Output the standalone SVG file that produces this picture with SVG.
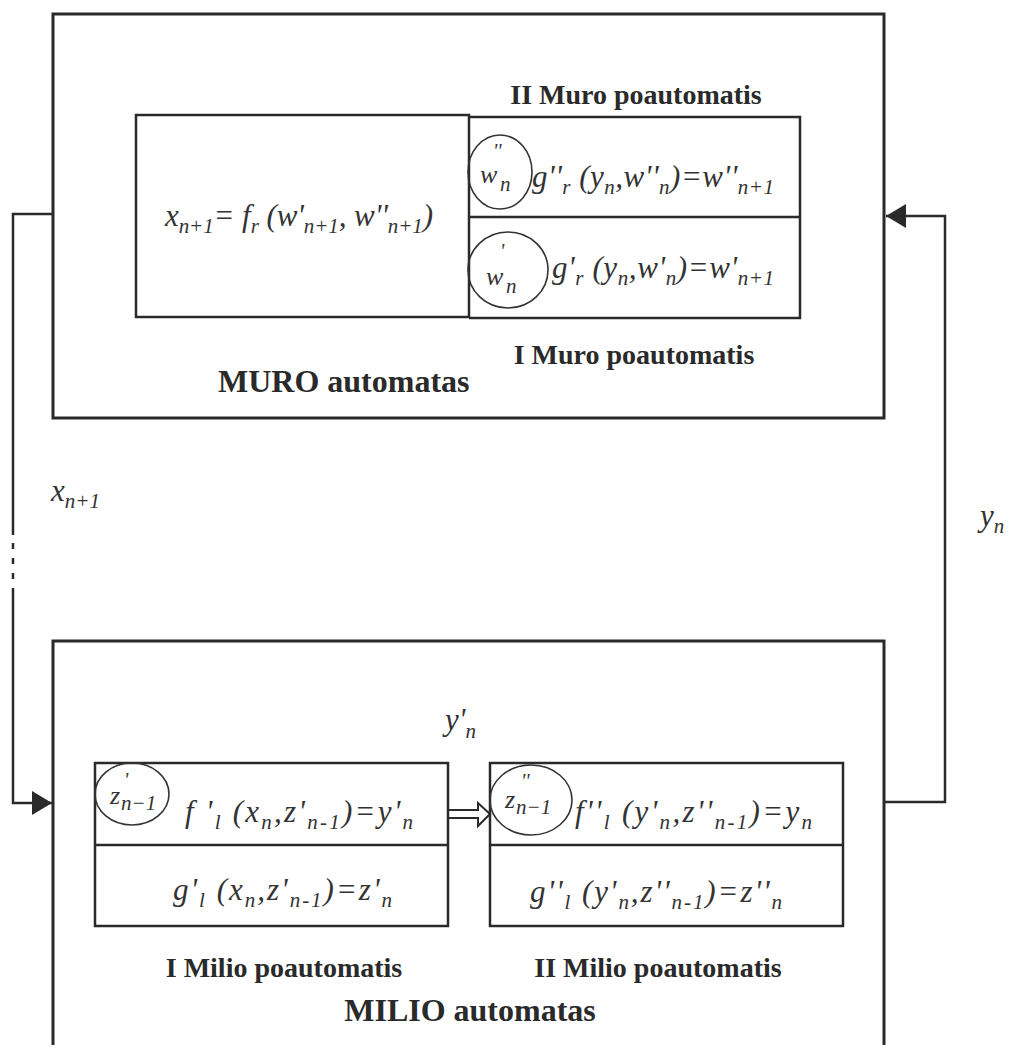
<svg xmlns="http://www.w3.org/2000/svg" width="1015" height="1045" viewBox="0 0 1015 1045">
<style>
.box{fill:none;stroke:#2a2a2a;stroke-width:3}
.ibox{fill:none;stroke:#2a2a2a;stroke-width:2.5}
.ell{fill:none;stroke:#333;stroke-width:1.6}
.con{fill:none;stroke:#2a2a2a;stroke-width:2.5}
.f{font-family:"Liberation Serif",serif;font-style:italic;font-size:31px;fill:#333}
.s{font-size:21px}
.p{font-size:20px}
.cs{font-family:"Liberation Serif",serif;font-style:italic;font-size:26px;fill:#333}
.lb{font-family:"Liberation Serif",serif;font-weight:bold;font-size:28px;fill:#2a2a2a}
.tl{font-family:"Liberation Serif",serif;font-weight:bold;font-size:32px;fill:#2a2a2a}
</style>
<defs>
<marker id="ah" markerWidth="20" markerHeight="24" refX="20" refY="12" orient="auto" markerUnits="userSpaceOnUse">
<path d="M0,0 L20,12 L0,24 Z" fill="#2a2a2a"/>
</marker>
</defs>
<rect width="1015" height="1045" fill="#fff"/>

<g id="muro">
<rect class="box" x="53" y="14" width="831" height="404"/>
<rect class="ibox" x="136" y="115" width="333" height="202"/>
<polyline class="ibox" points="469,117 800,117 800,318 469,318"/>
<line class="ibox" x1="469" y1="217" x2="800" y2="217"/>
<text class="lb" x="636" y="104" text-anchor="middle">II Muro poautomatis</text>
<text class="lb" x="634" y="364" text-anchor="middle">I  Muro poautomatis</text>
<text class="tl" x="218" y="392">MURO automatas</text>
<text class="f" x="165" y="226" textLength="268">x<tspan class="s" dy="7">n+1</tspan><tspan dy="-7">= f</tspan><tspan class="s" dy="7">r</tspan><tspan dy="-7"> (w'</tspan><tspan class="s" dy="7">n+1</tspan><tspan dy="-7">, w''</tspan><tspan class="s" dy="7">n+1</tspan><tspan dy="-7">)</tspan></text>
<ellipse class="ell" cx="500" cy="172" rx="32" ry="37"/>
<text class="cs" x="480" y="183">w<tspan class="p" x="493" y="158">''</tspan><tspan class="s" x="500" y="191">n</tspan></text>
<text class="f" x="532" y="187" textLength="242">g''<tspan class="s" dy="7">r</tspan><tspan dy="-7"> (y</tspan><tspan class="s" dy="7">n</tspan><tspan dy="-7">,w''</tspan><tspan class="s" dy="7">n</tspan><tspan dy="-7">)=w''</tspan><tspan class="s" dy="7">n+1</tspan></text>
<ellipse class="ell" cx="508" cy="270" rx="40" ry="38"/>
<text class="cs" x="486" y="285">w<tspan class="p" x="500" y="258">'</tspan><tspan class="s" x="506" y="293">n</tspan></text>
<text class="f" x="552" y="278" textLength="222">g'<tspan class="s" dy="7">r</tspan><tspan dy="-7"> (y</tspan><tspan class="s" dy="7">n</tspan><tspan dy="-7">,w'</tspan><tspan class="s" dy="7">n</tspan><tspan dy="-7">)=w'</tspan><tspan class="s" dy="7">n+1</tspan></text>
</g>

<g id="milio">
<rect class="box" x="53" y="641" width="831" height="420"/>
<rect class="ibox" x="95" y="763" width="353" height="163"/>
<line class="ibox" x1="95" y1="845" x2="448" y2="845"/>
<rect class="ibox" x="490" y="763" width="353" height="163"/>
<line class="ibox" x1="490" y1="845" x2="843" y2="845"/>
<text class="f" x="445" y="730">y'<tspan class="s" dy="8">n</tspan></text>
<ellipse class="ell" cx="132" cy="794" rx="37" ry="31"/>
<text class="cs" x="110" y="804">z<tspan class="p" x="124" y="787">'</tspan><tspan class="s" x="121" y="810">n−1</tspan></text>
<text class="f" x="185" y="822" textLength="228">f '<tspan class="s" dy="7">l</tspan><tspan dy="-7"> (x</tspan><tspan class="s" dy="7">n</tspan><tspan dy="-7">,z'</tspan><tspan class="s" dy="7">n-1</tspan><tspan dy="-7">)=y'</tspan><tspan class="s" dy="7">n</tspan></text>
<text class="f" x="173" y="900" textLength="219">g'<tspan class="s" dy="7">l</tspan><tspan dy="-7"> (x</tspan><tspan class="s" dy="7">n</tspan><tspan dy="-7">,z'</tspan><tspan class="s" dy="7">n-1</tspan><tspan dy="-7">)=z'</tspan><tspan class="s" dy="7">n</tspan></text>
<ellipse class="ell" cx="531" cy="800" rx="41" ry="35"/>
<text class="cs" x="505" y="808">z<tspan class="p" x="521" y="788">''</tspan><tspan class="s" x="516" y="814">n−1</tspan></text>
<text class="f" x="575" y="822" textLength="237">f''<tspan class="s" dy="7">l</tspan><tspan dy="-7"> (y'</tspan><tspan class="s" dy="7">n</tspan><tspan dy="-7">,z''</tspan><tspan class="s" dy="7">n-1</tspan><tspan dy="-7">)=y</tspan><tspan class="s" dy="7">n</tspan></text>
<text class="f" x="530" y="902" textLength="252">g''<tspan class="s" dy="7">l</tspan><tspan dy="-7"> (y'</tspan><tspan class="s" dy="7">n</tspan><tspan dy="-7">,z''</tspan><tspan class="s" dy="7">n-1</tspan><tspan dy="-7">)=z''</tspan><tspan class="s" dy="7">n</tspan></text>
<text class="lb" x="284" y="977" text-anchor="middle">I Milio poautomatis</text>
<text class="lb" x="658" y="977" text-anchor="middle">II Milio poautomatis</text>
<text class="tl" x="470" y="1021" text-anchor="middle">MILIO automatas</text>
</g>

<g id="connectors">
<polyline class="con" points="53,214 13,214 13,535"/>
<line class="con" x1="13" y1="543" x2="13" y2="549"/>
<line class="con" x1="13" y1="558" x2="13" y2="564"/>
<line class="con" x1="13" y1="573" x2="13" y2="579"/>
<polyline class="con" points="13,588 13,803 52,803" marker-end="url(#ah)"/>
<polyline class="con" points="884,802 945,802 945,216 886,216" marker-end="url(#ah)"/>
<line stroke="#2a2a2a" stroke-width="2" x1="448" y1="810" x2="479" y2="810"/>
<line stroke="#2a2a2a" stroke-width="2" x1="448" y1="818" x2="479" y2="818"/>
<polyline fill="none" stroke="#2a2a2a" stroke-width="2" points="478,810 478,803 490,814 478,826 478,818"/>
<text class="f" x="51" y="501">x<tspan class="s" dy="7">n+1</tspan></text>
<text class="f" x="980" y="526">y<tspan class="s" dy="7">n</tspan></text>
</g>
</svg>
